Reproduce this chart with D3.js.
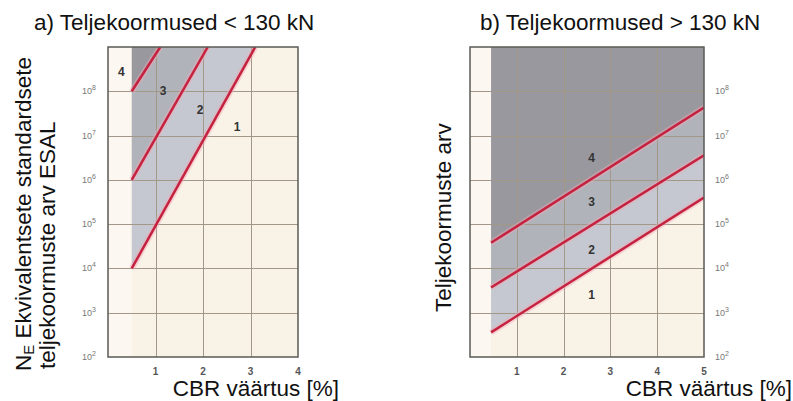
<!DOCTYPE html>
<html>
<head>
<meta charset="utf-8">
<script src="https://cdn.jsdelivr.net/npm/d3@7"></script>
<style>
  body { margin: 0; background: #fff; }
  svg { display: block; font-family: 'Liberation Sans', Arial, sans-serif; }
</style>
</head>
<body>
<svg id="chart" width="793" height="401"></svg>
<script>
// y axis: load repetitions (log), decades
const yTicks = [1e2, 1e3, 1e4, 1e5, 1e6, 1e7, 1e8]
const yExponents = [2, 3, 4, 5, 6, 7, 8]

// panel a) – axle loads < 130 kN
const xTicksA = [1, 2, 3, 4]
const zoneStartA = 0.5
// boundary lines, lowest first: [cbr, N] points
const linesA = [
  [[0.5, 1e4], [3.1, 1e9]],
  [[0.5, 1e6], [2.1, 1e9]],
  [[0.5, 1e8], [1.1, 1e9]],
]
const zoneLabelsA = ['1', '2', '3', '4']
const zoneLabelPosA = [[2.72, 1.6e7], [1.94, 3.9e7], [1.16, 1e8], [0.28, 2.7e8]]

// panel b) – axle loads > 130 kN
const xTicksB = [1, 2, 3, 4, 5]
const zoneStartB = 0.45
const linesB = [
  [[0.45, 3.6e2], [5, 4e5]],
  [[0.45, 3.7e3], [5, 3.6e6]],
  [[0.45, 3.8e4], [5, 4.3e7]],
]
const zoneLabelsB = ['1', '2', '3', '4']
const zoneLabelPosB = [[2.6, 2.5e3], [2.6, 2.6e4], [2.6, 3.2e5], [2.6, 3.2e6]]

const CREAM = '#f9f2e7'
const ZONE_COLORS = ['#c5c8d0', '#b1b3ba', '#98989e']
const LINE_RED = '#c5223f'
const GRID = '#a39888'

const svg = d3.select('#chart')

const drawPanel = ({ id, left, right, top, bottom, xMax, xTicks, zoneStart, lines, labels, labelPos, tickSide }) => {
  const x = d3.scaleLinear().domain([0, xMax]).range([left, right])
  const y = d3.scaleLog().domain([1e2, 1e9]).range([bottom, top])
  const g = svg.append('g')

  g.append('clipPath').attr('id', 'clip-' + id)
    .append('rect')
    .attr('x', left).attr('y', top)
    .attr('width', right - left).attr('height', bottom - top)

  const plot = g.append('g').attr('clip-path', `url(#clip-${id})`)

  // cream background, lighter strip before the zones start
  plot.append('rect')
    .attr('x', left).attr('y', top)
    .attr('width', right - left).attr('height', bottom - top)
    .attr('fill', CREAM)
  plot.append('rect')
    .attr('x', left).attr('y', top)
    .attr('width', x(zoneStart) - left).attr('height', bottom - top)
    .attr('fill', '#fcf7f1')

  // zones between the boundary lines
  const line = d3.line().x(d => x(d[0])).y(d => y(d[1]))
  lines.forEach((lower, i) => {
    const last = lower[lower.length - 1]
    const upper = i < lines.length - 1
      ? lines[i + 1]
      : [[zoneStart, 1e9], [last[0], 1e9]]
    const poly = lower.concat(upper.slice().reverse())
    plot.append('path')
      .attr('d', line(poly) + 'Z')
      .attr('fill', ZONE_COLORS[i])
  })

  // grid
  const grid = plot.append('g')
    .attr('stroke', GRID)
    .attr('stroke-width', 1)
    .attr('shape-rendering', 'crispEdges')
  grid.selectAll('.gy')
    .data(yTicks.slice(1))
    .join('line')
    .attr('class', 'gy')
    .attr('x1', left).attr('x2', right)
    .attr('y1', d => Math.round(y(d)) + 0.5).attr('y2', d => Math.round(y(d)) + 0.5)
  grid.selectAll('.gx')
    .data(xTicks.filter(d => d < xMax))
    .join('line')
    .attr('class', 'gx')
    .attr('y1', top).attr('y2', bottom)
    .attr('x1', d => Math.round(x(d)) + 0.5).attr('x2', d => Math.round(x(d)) + 0.5)

  // boundary lines with a soft pink halo
  lines.forEach(l => {
    plot.append('path').attr('d', line(l))
      .attr('fill', 'none').attr('stroke', '#f2a9b8')
      .attr('stroke-width', 6).attr('stroke-opacity', 0.45)
    plot.append('path').attr('d', line(l))
      .attr('fill', 'none').attr('stroke', LINE_RED)
      .attr('stroke-width', 2.5)
  })

  // zone numbers
  g.append('g').selectAll('text')
    .data(labels)
    .join('text')
    .attr('x', (d, i) => x(labelPos[i][0]))
    .attr('y', (d, i) => y(labelPos[i][1]))
    .attr('dy', '0.35em')
    .attr('text-anchor', 'middle')
    .attr('font-size', 12).attr('font-weight', 'bold')
    .attr('fill', '#333')
    .text(d => d)

  // frame
  g.append('rect')
    .attr('x', left).attr('y', top)
    .attr('width', right - left).attr('height', bottom - top)
    .attr('fill', 'none').attr('stroke', '#5a5a55').attr('stroke-width', 1.5)

  // x tick labels
  g.append('g').selectAll('text')
    .data(xTicks)
    .join('text')
    .attr('x', d => x(d)).attr('y', bottom + 18)
    .attr('text-anchor', 'middle')
    .attr('font-size', 10).attr('font-weight', 'bold')
    .attr('fill', '#555')
    .text(d => d)

  // y tick labels, 10 with superscript exponent
  const yl = g.append('g').selectAll('text')
    .data(yTicks)
    .join('text')
    .attr('x', tickSide === 'left' ? left - 12 : right + 11)
    .attr('y', d => y(d) + 3)
    .attr('text-anchor', tickSide === 'left' ? 'end' : 'start')
    .attr('font-size', 9).attr('fill', '#777')
  yl.append('tspan').text('10')
  yl.append('tspan').attr('dy', -4).attr('font-size', 7)
    .text((d, i) => yExponents[i])

  return { x, y }
}

drawPanel({
  id: 'a', left: 108, right: 298, top: 47, bottom: 357, xMax: 4,
  xTicks: xTicksA, zoneStart: zoneStartA, lines: linesA,
  labels: zoneLabelsA, labelPos: zoneLabelPosA, tickSide: 'left',
})
drawPanel({
  id: 'b', left: 470, right: 704, top: 47, bottom: 357, xMax: 5,
  xTicks: xTicksB, zoneStart: zoneStartB, lines: linesB,
  labels: zoneLabelsB, labelPos: zoneLabelPosB, tickSide: 'right',
})

// titles
const TITLE_SIZE = 22.5
svg.append('text').attr('x', 34).attr('y', 30)
  .attr('font-size', TITLE_SIZE).attr('fill', '#111')
  .text('a) Teljekoormused < 130 kN')
svg.append('text').attr('x', 480).attr('y', 30)
  .attr('font-size', TITLE_SIZE).attr('fill', '#111')
  .text('b) Teljekoormused > 130 kN')

// x axis titles
svg.append('text').attr('x', 339).attr('y', 396)
  .attr('text-anchor', 'end')
  .attr('font-size', TITLE_SIZE).attr('fill', '#111')
  .text('CBR väärtus [%]')
svg.append('text').attr('x', 792).attr('y', 396)
  .attr('text-anchor', 'end')
  .attr('font-size', TITLE_SIZE).attr('fill', '#111')
  .text('CBR väärtus [%]')

// y axis titles (rotated)
const yt1 = svg.append('text')
  .attr('transform', 'translate(31,371) rotate(-90)')
  .attr('font-size', TITLE_SIZE).attr('fill', '#111')
yt1.append('tspan').text('N')
yt1.append('tspan').attr('dy', 3).attr('font-size', 15).text('E')
yt1.append('tspan').attr('dy', -3).text(' Ekvivalentsete standardsete')
svg.append('text')
  .attr('transform', 'translate(55,369) rotate(-90)')
  .attr('font-size', TITLE_SIZE).attr('fill', '#111')
  .text('teljekoormuste arv ESAL')
svg.append('text')
  .attr('transform', 'translate(451,312) rotate(-90)')
  .attr('font-size', TITLE_SIZE).attr('fill', '#111')
  .text('Teljekoormuste arv')
</script>
</body>
</html>
